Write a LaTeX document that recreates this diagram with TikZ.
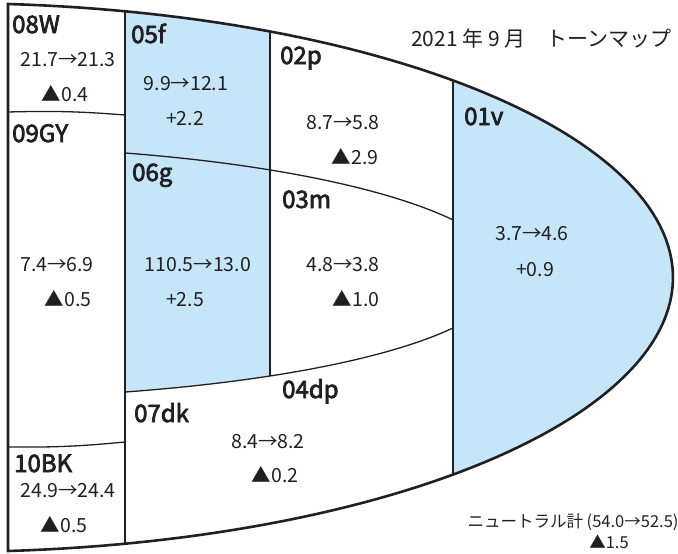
\documentclass[tikz,border=0pt]{standalone}
\usepackage{fontspec}
\setmainfont{Noto Sans CJK JP}
\newfontfamily\tonefont[FakeBold=3]{Noto Sans CJK JP}
\definecolor{cink}{HTML}{231F20}
\definecolor{cblue}{HTML}{C4E6F8}
\tikzset{
  rim/.style={draw=cink, line width=2.6pt},
  seam/.style={draw=cink, line width=1.3pt},
  tone/.style={anchor=base west, inner sep=0pt, text=cink, font=\tonefont\fontsize{24}{26}\selectfont},
  val/.style={anchor=base, inner sep=0pt, text=cink, font=\fontsize{19.5}{22}\selectfont},
  foot/.style={val, font=\fontsize{16.5}{19}\selectfont},
}

\begin{document}
\begin{tikzpicture}[x=1pt, y=-1pt]
  \useasboundingbox (0,0) rectangle (678,554);
  \fill[cblue] plot[domain=-45.91:45.91, samples=60, variable=\t] ({-50+723*cos(\t)}, {277.5+274.4*sin(\t)}) -- cycle;
  \fill[cblue] plot[domain=-76:-63.73, samples=20, variable=\t] ({-50+723*cos(\t)}, {277.5+274.4*sin(\t)})
    -- plot[domain=54.70:71.57, samples=20, variable=\t] ({-50+553.7*cos(\t)}, {277.5+120.7*sin(\t)}) -- cycle;
  \draw[seam] (125,11.3) -- (125,543.7);
  \draw[seam] (270,31.4) -- (270,376);
  \draw[seam] (453,80.5) -- (453,474.5);
  \draw[seam] plot[domain=-71.79:-26.07, samples=40, variable=\t] ({-50+560*cos(\t)}, {277.5+131.1*sin(\t)});
  \draw[seam] plot[domain=71.57:24.71, samples=40, variable=\t] ({-50+553.7*cos(\t)}, {277.5+120.7*sin(\t)});
  \draw[seam] (8,112) to[bend left=3] (125,115);
  \draw[seam] (8,447) to[bend right=3] (125,442);
  \draw[rim] plot[domain=-85.4:85.4, samples=120, variable=\t] ({-50+723*cos(\t)}, {277.5+274.4*sin(\t)}) -- cycle;

  \foreach \n/\x/\y in {08W/12/33, 09GY/12/142, 10BK/14/472, 05f/131/43, 06g/132/181,
                        07dk/134/422, 02p/280/64, 03m/282/208, 04dp/282/398, 01v/464/125}
    \node[tone] (t\n) at (\x,\y) {\n};

  \foreach \n/\x/\y/\s in {w1/68/66/21.7→21.3, w2/65/101/▲0.4, gy1/57/271/7.4→6.9, gy2/68/306/▲0.5,
                           bk1/68/497/24.9→24.4, bk2/64/532/▲0.5, f1/186/90/9.9→12.1, f2/185/125/+2.2,
                           g1/198/271/110.5→13.0, g2/185/306/+2.5, dk1/268/448/8.4→8.2, dk2/275/482/▲0.2,
                           p1/343/129/8.7→5.8, p2/355/164/▲2.9, m1/343/271/4.8→3.8, m2/356/306/▲1.0,
                           v1/532/240/3.7→4.6, v2/535/276/+0.9}
    \node[val] (\n) at (\x,\y) {\s};

  \node[val, font=\fontsize{21}{24}\selectfont] (title) at (541.5,46) {2021 年 9 月　トーンマップ};
  \node[foot] (neutral) at (573,527) {ニュートラル計 (54.0→52.5)};
  \node[foot] (ndiff) at (609,548) {▲1.5};
\end{tikzpicture}
\end{document}
